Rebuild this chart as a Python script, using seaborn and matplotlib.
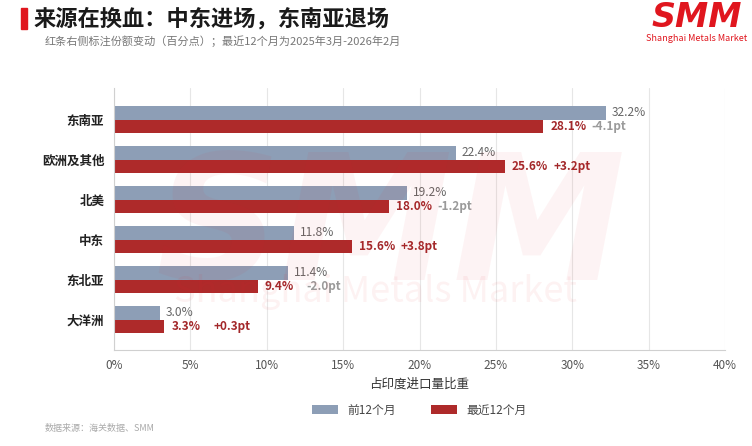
import pandas as pd
import matplotlib.pyplot as plt
import seaborn as sns
from matplotlib.patches import Rectangle
from matplotlib.ticker import FuncFormatter

# data (share of India imports, %)
regions = ['东南亚', '欧洲及其他', '北美', '中东', '东北亚', '大洋洲']
prev_12m = [32.2, 22.4, 19.2, 11.8, 11.4, 3.0]
last_12m = [28.1, 25.6, 18.0, 15.6, 9.4, 3.3]
series_names = ['前12个月', '最近12个月']

GRAY = '#8d9eb6'
RED = '#ae2a2a'
DARK_RED = '#a3282a'

df = pd.DataFrame({
    'region': regions * 2,
    'share': prev_12m + last_12m,
    'period': [series_names[0]] * len(regions) + [series_names[1]] * len(regions),
})

sns.set_style('white')
plt.rcParams['font.family'] = ['Noto Sans CJK SC', 'DejaVu Sans']

fig = plt.figure(figsize=(7.52, 4.46), dpi=100)
ax = fig.add_axes([0.1516, 0.2152, 0.8125, 0.5875])

sns.barplot(data=df, y='region', x='share', hue='period', orient='h',
            palette=[GRAY, RED], width=0.67, gap=0, ax=ax,
            saturation=1, legend=True, linewidth=0, edgecolor='none')

ax.set_xlim(0, 40)
ax.set_ylim(5.76, -0.79)
ax.set_xticks(range(0, 41, 5))
ax.xaxis.set_major_formatter(FuncFormatter(lambda v, p: f'{v:.0f}%'))
ax.grid(axis='x', color='#e6e6e6', linewidth=0.8)
ax.set_axisbelow(True)
for s in ['top', 'right']:
    ax.spines[s].set_visible(False)
ax.spines['left'].set_color('#d0d0d0')
ax.spines['bottom'].set_color('#d0d0d0')
ax.tick_params(axis='x', colors='#555555', labelsize=8.5, length=3, color='#d0d0d0')
ax.tick_params(axis='y', labelsize=9, length=3, color='#999999', pad=4)
for lab in ax.get_yticklabels():
    lab.set_fontweight('bold')
    lab.set_color('#222222')
ax.set_ylabel('')
ax.set_xlabel('占印度进口量比重', fontsize=9, color='#333333', labelpad=4)

# value labels
for bar, v in zip(ax.containers[0], prev_12m):
    y = bar.get_y() + bar.get_height() / 2
    ax.annotate(f'{v:.1f}%', (bar.get_width(), y), xytext=(4, 0),
                textcoords='offset points', va='center', ha='left',
                fontsize=8.6, color='#666666')
for bar, v, p in zip(ax.containers[1], last_12m, prev_12m):
    y = bar.get_y() + bar.get_height() / 2
    ax.annotate(f'{v:.1f}%', (bar.get_width(), y), xytext=(5, 0),
                textcoords='offset points', va='center', ha='left',
                fontsize=8.5, color=DARK_RED, fontweight='bold')
    d = round(v - p, 1)
    ax.annotate(f'{d:+.1f}pt', (bar.get_width(), y), xytext=(35, 0),
                textcoords='offset points', va='center', ha='left',
                fontsize=8.5, fontweight='bold',
                color=DARK_RED if d > 0 else '#9a9a9a')

# legend
leg = ax.legend(loc='center', bbox_to_anchor=(0.5, -0.229), ncol=2,
                frameon=False, fontsize=8.5, handlelength=2.2, handleheight=0.8,
                columnspacing=3, handletextpad=0.8)
for t in leg.get_texts():
    t.set_color('#444444')

# watermark
fig.text(0.52, 0.48, 'SMM', fontsize=125, fontweight='bold', fontstyle='italic',
         family='DejaVu Sans', color='#e8242b', alpha=0.05,
         ha='center', va='center', zorder=10)
fig.text(0.5, 0.345, 'Shanghai Metals Market', fontsize=26,
         color='#e8242b', alpha=0.06, ha='center', va='center', zorder=10)

# header
fig.patches.append(Rectangle((0.028, 0.935), 0.008, 0.046, color='#e0161e',
                             transform=fig.transFigure, figure=fig))
fig.text(0.044, 0.958, '来源在换血：中东进场，东南亚退场', fontsize=16,
         fontweight='bold', color='#1a1a1a', va='center')
fig.text(0.06, 0.907, '红条右侧标注份额变动（百分点）；最近12个月为2025年3月-2026年2月',
         fontsize=8, color='#777777', va='center')
fig.text(0.927, 0.96, 'SMM', fontsize=24, fontweight='heavy', fontstyle='italic',
         family='DejaVu Sans', color='#e0161e', ha='center', va='center')
fig.text(0.927, 0.913, 'Shanghai Metals Market', fontsize=6.5, color='#e0161e',
         ha='center', va='center')

fig.text(0.06, 0.04, '数据来源：海关数据、SMM', fontsize=6.5, color='#aaaaaa', va='center')

fig.savefig('out.png', dpi=100)
